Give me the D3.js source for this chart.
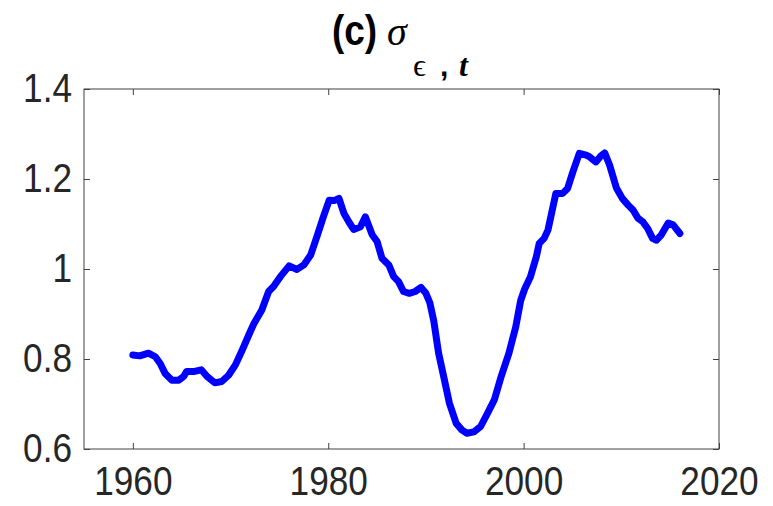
<!DOCTYPE html>
<html>
<head>
    <title>sigma epsilon t</title>
    <script src="https://cdn.jsdelivr.net/npm/d3@7"></script>
    <style>
        body { margin: 0; background: #fff; }
        .tick text { font-family: "Liberation Sans", Arial, sans-serif; font-size: 40px; fill: #262626; }
        .tick line { stroke: #404040; }
    </style>
</head>
<body>
    <div id="chart"></div>

    <script>
        // values
        var years = [1960.0,1960.7,1961.6,1962.3,1962.8,1963.3,1964.0,1964.7,1965.2,1965.5,1966.2,1967.0,1967.6,1968.4,1969.1,1969.8,
            1970.5,1971.2,1972.0,1972.4,1973.2,1973.9,1974.4,1975.1,1976.0,1976.8,1977.5,1978.2,1978.9,1979.5,1980.1,1980.6,
            1981.1,1981.6,1982.1,1982.6,1983.3,1983.8,1984.5,1985.0,1985.5,1986.2,1986.7,1987.2,1987.7,1988.3,1988.9,1989.5,
            1990.0,1990.4,1990.8,1991.3,1991.9,1992.4,1993.1,1993.7,1994.2,1994.9,1995.6,1996.3,1997.0,1997.7,1998.5,1999.2,
            1999.7,2000.1,2000.7,2001.3,2001.6,2002.1,2002.5,2003.0,2003.3,2004.0,2004.5,2005.0,2005.7,2006.4,2006.7,2007.4,
            2007.9,2008.3,2008.8,2009.5,2010.1,2010.7,2011.2,2011.7,2012.2,2012.7,2013.2,2013.6,2014.1,2014.8,2015.3,2016.0];
        var sigma = [0.809,0.807,0.813,0.805,0.790,0.768,0.753,0.753,0.761,0.772,0.772,0.776,0.761,0.747,0.750,0.764,
            0.787,0.820,0.860,0.879,0.909,0.950,0.961,0.983,1.007,0.999,1.009,1.031,1.076,1.116,1.153,1.152,
            1.157,1.124,1.105,1.088,1.094,1.116,1.076,1.061,1.024,1.009,0.983,0.972,0.950,0.946,0.950,0.959,
            0.946,0.925,0.885,0.813,0.753,0.702,0.657,0.642,0.635,0.638,0.650,0.679,0.709,0.761,0.813,0.872,
            0.930,0.955,0.983,1.027,1.057,1.068,1.087,1.138,1.168,1.168,1.179,1.213,1.257,1.253,1.250,1.238,
            1.251,1.258,1.231,1.180,1.157,1.142,1.131,1.113,1.105,1.090,1.068,1.064,1.076,1.102,1.098,1.079];
        var xTicks = [1960, 1980, 2000, 2020];
        var yTicks = [0.6, 0.8, 1, 1.2, 1.4];

        var width = 773, height = 506;
        var plotL = 84, plotR = 719, plotT = 89, plotB = 449;
        var squeeze = 0.88;

        var svg = d3.select("#chart").append("svg")
            .attr("width", width)
            .attr("height", height);

        var x = d3.scaleLinear().domain([1955, 2020]).range([plotL, plotR]);
        var y = d3.scaleLinear().domain([0.6, 1.4]).range([plotB, plotT]);

        // box
        svg.append("rect")
            .attr("x", plotL).attr("y", plotT)
            .attr("width", plotR - plotL).attr("height", plotB - plotT)
            .attr("fill", "none").attr("stroke", "#404040").attr("stroke-width", 1);

        // ticks point inward, mirrored on the opposite sides
        var gx = svg.append("g").attr("transform", "translate(0," + plotB + ")")
            .call(d3.axisBottom(x).tickValues(xTicks).tickFormat(d3.format("d"))
                .tickSizeInner(-6).tickSizeOuter(0).tickPadding(18));
        gx.selectAll("text").attr("transform", "scale(" + squeeze + ",1)");

        var gy = svg.append("g").attr("transform", "translate(" + plotL + ",0)")
            .call(d3.axisLeft(y).tickValues(yTicks).tickFormat(d => String(+d.toFixed(1)))
                .tickSizeInner(-6).tickSizeOuter(0).tickPadding(12));
        gy.selectAll("text")
            .attr("x", -12 / squeeze)
            .attr("transform", "scale(" + squeeze + ",1)");

        svg.append("g").attr("transform", "translate(0," + plotT + ")")
            .call(d3.axisTop(x).tickValues(xTicks).tickFormat("").tickSizeInner(-6).tickSizeOuter(0));
        svg.append("g").attr("transform", "translate(" + plotR + ",0)")
            .call(d3.axisRight(y).tickValues(yTicks).tickFormat("").tickSizeInner(-6).tickSizeOuter(0));

        svg.selectAll(".domain").remove();

        // series
        var line = d3.line()
            .x((d, i) => x(years[i]))
            .y(d => y(d));

        svg.append("path")
            .datum(sigma)
            .attr("d", line)
            .attr("fill", "none")
            .attr("stroke", "#0000ff")
            .attr("stroke-width", 7)
            .attr("stroke-linejoin", "round")
            .attr("stroke-linecap", "round");

        // title: (c) sigma_{epsilon, t}
        var title = svg.append("g").attr("fill", "#000");
        title.append("text")
            .attr("x", 332 / squeeze).attr("y", 45)
            .attr("transform", "scale(" + squeeze + ",1)")
            .style("font-family", "'Liberation Sans', Arial, sans-serif")
            .style("font-size", "42px").style("font-weight", "bold")
            .text("(c)");
        title.append("text")
            .attr("x", 387).attr("y", 45)
            .style("font-family", "'Liberation Serif', 'Times New Roman', serif")
            .style("font-size", "40px").style("font-style", "italic")
            .text("σ");
        title.append("text")
            .attr("x", 413).attr("y", 76)
            .style("font-family", "'Liberation Serif', 'Times New Roman', serif")
            .style("font-size", "32px")
            .text("ϵ");
        title.append("text")
            .attr("x", 440).attr("y", 76)
            .style("font-family", "'Liberation Sans', Arial, sans-serif")
            .style("font-size", "30px").style("font-weight", "bold")
            .text(",");
        title.append("text")
            .attr("x", 459).attr("y", 76)
            .style("font-family", "'Liberation Serif', 'Times New Roman', serif")
            .style("font-size", "32px").style("font-weight", "bold").style("font-style", "italic")
            .text("t");
    </script>
</body>
</html>
